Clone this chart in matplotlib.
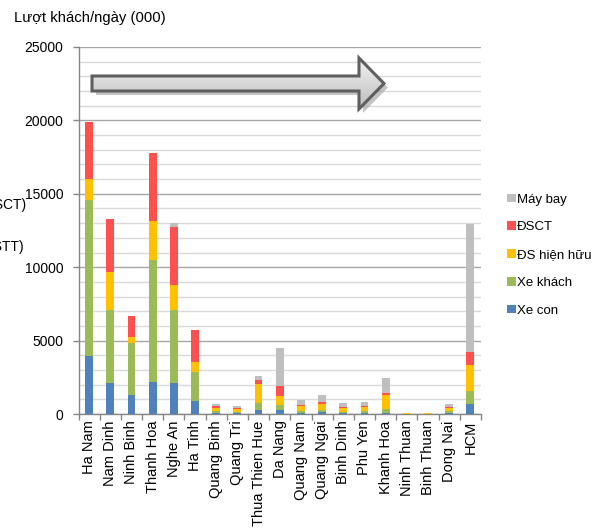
import numpy as np
import matplotlib
matplotlib.use("Agg")
import matplotlib.pyplot as plt
from matplotlib.patches import Polygon, Patch
from matplotlib.ticker import MultipleLocator, FixedLocator

plt.rcParams['font.family'] = ['Liberation Sans', 'DejaVu Sans']

provinces = ["Ha Nam", "Nam Dinh", "Ninh Binh", "Thanh Hoa", "Nghe An", "Ha Tinh",
             "Quang Binh", "Quang Tri", "Thua Thien Hue", "Da Nang", "Quang Nam",
             "Quang Ngai", "Binh Dinh", "Phu Yen", "Khanh Hoa", "Ninh Thuan",
             "Binh Thuan", "Dong Nai", "HCM"]

xe_con = [3920, 2100, 1280, 2190, 2140, 910, 90, 50, 300, 250, 100, 110, 70, 90, 90, 10, 5, 90, 660]
xe_khach = [10660, 4960, 3530, 8270, 4970, 1980, 140, 110, 450, 340, 130, 190, 90, 140, 270, 10, 5, 90, 910]
ds_hien_huu = [1410, 2580, 450, 2660, 1660, 620, 200, 180, 1300, 660, 290, 380, 230, 270, 940, 40, 25, 230, 1790]
dsct = [3870, 3660, 1410, 4650, 3960, 2180, 140, 90, 250, 640, 120, 120, 60, 70, 110, 10, 5, 70, 870]
may_bay = [0, 0, 0, 0, 250, 0, 90, 90, 310, 2590, 310, 520, 280, 230, 1070, 10, 10, 200, 8720]

series = [("Xe con", xe_con, "#4F81BD"),
          ("Xe khách", xe_khach, "#9BBB59"),
          ("ĐS hiện hữu", ds_hien_huu, "#FFC000"),
          ("ĐSCT", dsct, "#FF5050"),
          ("Máy bay", may_bay, "#BFBFBF")]

W, H = 605, 528
fig = plt.figure(figsize=(W / 100, H / 100), dpi=100)
ax = fig.add_axes([78.5 / W, 1 - 414 / H, (481 - 78.5) / W, (414 - 47) / H])

x = np.arange(len(provinces))
bottom = np.zeros(len(provinces))
for name, vals, col in series:
    v = np.array(vals, dtype=float)
    ax.bar(x, v, width=0.37, bottom=bottom, color=col, label=name, zorder=3)
    bottom += v

ax.set_xlim(-0.5, len(provinces) - 0.5)
ax.set_ylim(0, 25000)

# grid: major every 5000, minor every 1000
ax.yaxis.set_major_locator(MultipleLocator(5000))
ax.yaxis.set_minor_locator(MultipleLocator(1000))
ax.grid(axis='y', which='major', color='#A6A6A6', lw=1.0, zorder=0)
ax.grid(axis='y', which='minor', color='#D9D9D9', lw=1.0, zorder=0)
ax.set_axisbelow(True)

ax.set_xticks(x)
ax.set_xticklabels(provinces, rotation=90, fontsize=10.5)
ax.xaxis.set_minor_locator(FixedLocator(np.arange(-0.5, len(provinces), 1.0)))
ax.tick_params(axis='x', which='major', length=0, pad=4.5)
ax.tick_params(axis='x', which='minor', length=4, color='#868686', width=1)
ax.tick_params(axis='y', which='major', length=4, color='#868686', width=1,
               labelsize=10, pad=7)
ax.tick_params(axis='y', which='minor', length=0)

for s in ('top', 'right'):
    ax.spines[s].set_visible(False)
for s in ('left', 'bottom'):
    ax.spines[s].set_color('#868686')
    ax.spines[s].set_linewidth(1)

fig.text(14 / W, 1 - 18 / H, "Lượt khách/ngày (000)", fontsize=10.7, va='center', ha='left')
fig.text(26 / W, 1 - 205 / H, "(ĐSCT)", fontsize=10, va='center', ha='right')
fig.text(24 / W, 1 - 247 / H, "(ĐSTT)", fontsize=10, va='center', ha='right')

handles = [Patch(facecolor=col, label=name) for name, _, col in reversed(series)]
fig.legend(handles=handles, loc='upper left', bbox_to_anchor=(507 / W, 1 - 193.5 / H),
           frameon=False, fontsize=9.5, handlelength=0.65, handleheight=0.6,
           handletextpad=0.12, labelspacing=1.2, borderpad=0, borderaxespad=0)

# block arrow drawn in pixel space on a transparent overlay
ov = fig.add_axes([0, 0, 1, 1], zorder=5)
ov.set_xlim(0, W)
ov.set_ylim(H, 0)
ov.axis('off')
ov.patch.set_alpha(0)

arrow_pts = [(92, 76), (359, 76), (359, 58), (384, 83.5), (359, 109), (359, 91), (92, 91)]
shadow = Polygon([(px + 4, py + 4) for px, py in arrow_pts], closed=True,
                 facecolor='#9E9E9E', edgecolor='none', alpha=0.6)
ov.add_patch(shadow)
body = Polygon(arrow_pts, closed=True, facecolor='none', edgecolor='#5F5F5F', lw=2.2)
ov.add_patch(body)
grad = np.linspace(0, 1, 64).reshape(-1, 1)
img = ov.imshow(grad, cmap=matplotlib.colors.LinearSegmentedColormap.from_list(
    'g', ['#F2F2F2', '#BDBDBD']), extent=(92, 384, 109, 58), aspect='auto',
    interpolation='bilinear', zorder=1)
fill = Polygon(arrow_pts, closed=True, facecolor='none', edgecolor='none')
ov.add_patch(fill)
img.set_clip_path(fill)
body.set_zorder(2)
ov.set_xlim(0, W)
ov.set_ylim(H, 0)

fig.savefig("out.png", dpi=100)
